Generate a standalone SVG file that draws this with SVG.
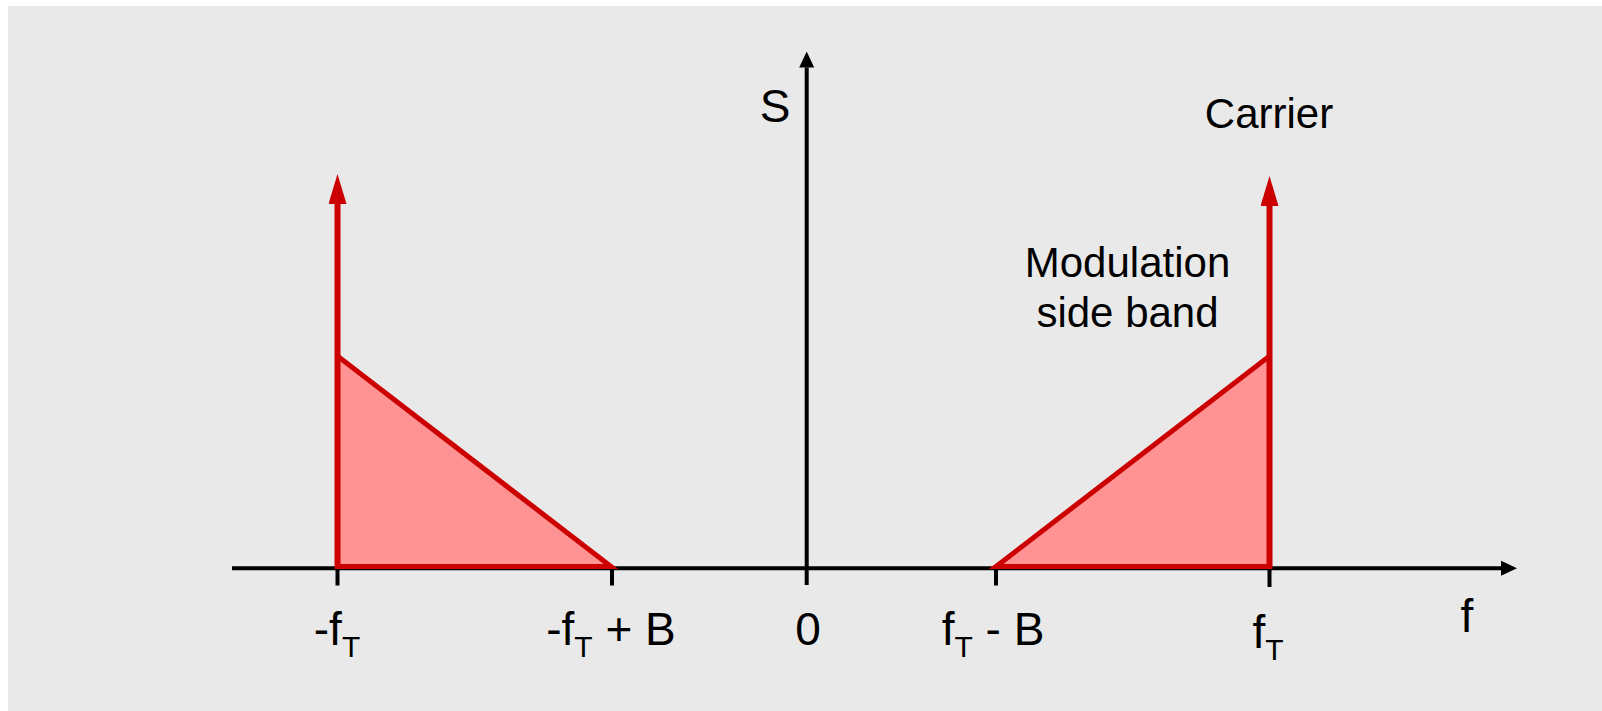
<svg xmlns="http://www.w3.org/2000/svg" width="1602" height="711" viewBox="0 0 1602 711">
  <style>
    .lbl { font-family: "Liberation Sans", Arial, sans-serif; fill: #000; }
    .ax { font-size: 46px; }
    .ann { font-size: 42px; }
    .sub { font-size: 30px; }
    .axis { stroke: #000; stroke-width: 4; fill: none; }
    .tick { stroke: #000; stroke-width: 4; }
    .band { fill: #FF9292; stroke: #CC0000; stroke-width: 5; stroke-linejoin: miter; }
    .carrier { stroke: #CC0000; stroke-width: 6; }
  </style>
  <defs>
    <marker id="blackHead" markerUnits="userSpaceOnUse" viewBox="0 0 16 16" markerWidth="16" markerHeight="16" refX="0" refY="8" orient="auto">
      <path d="M0,0.5 L16,8 L0,15.5 Z" fill="#000"/>
    </marker>
    <marker id="redHead" markerUnits="userSpaceOnUse" viewBox="0 0 30 18" markerWidth="30" markerHeight="18" refX="0" refY="9" orient="auto">
      <path d="M0,0 L30,9 L0,18 Z" fill="#CC0000"/>
    </marker>
  </defs>

  <rect x="8" y="6" width="1594" height="705" fill="#E9E9E9"/>

  <g id="connectors">
    <line id="f-axis" class="axis" x1="232" y1="568.3" x2="1501" y2="568.3" marker-end="url(#blackHead)"/>
    <line id="s-axis" class="axis" x1="806.7" y1="585" x2="806.7" y2="67.5" marker-end="url(#blackHead)"/>
    <line class="tick" x1="337.5" y1="566" x2="337.5" y2="585.5"/>
    <line class="tick" x1="612" y1="566" x2="612" y2="585.5"/>
    <line class="tick" x1="996" y1="566" x2="996" y2="585.5"/>
    <line class="tick" x1="1269.5" y1="566" x2="1269.5" y2="587"/>
  </g>

  <g id="sideband-left">
    <polygon class="band" points="337.5,566.5 337.5,356 611,566.5"/>
  </g>
  <g id="sideband-right">
    <polygon class="band" points="996,566.5 1269.5,356 1269.5,566.5"/>
  </g>

  <g id="carrier-left">
    <line class="carrier" x1="337.5" y1="569" x2="337.5" y2="204" marker-end="url(#redHead)"/>
  </g>
  <g id="carrier-right">
    <line class="carrier" x1="1269.5" y1="569" x2="1269.5" y2="206" marker-end="url(#redHead)"/>
  </g>

  <g id="labels">
    <text class="lbl ax" x="775" y="122" text-anchor="middle">S</text>
    <text class="lbl ann" x="1269" y="128" text-anchor="middle">Carrier</text>
    <text class="lbl ann" x="1127.5" y="277" text-anchor="middle">Modulation</text>
    <text class="lbl ann" x="1127.5" y="327" text-anchor="middle">side band</text>
    <text class="lbl ax" x="337" y="645" text-anchor="middle">-f<tspan class="sub" dy="12">T</tspan></text>
    <text class="lbl ax" x="611" y="645" text-anchor="middle">-f<tspan class="sub" dy="12">T</tspan><tspan dy="-12"> + B</tspan></text>
    <text class="lbl ax" x="808" y="645" text-anchor="middle">0</text>
    <text class="lbl ax" x="993" y="645" text-anchor="middle">f<tspan class="sub" dy="12">T</tspan><tspan dy="-12"> - B</tspan></text>
    <text class="lbl ax" x="1268" y="648" text-anchor="middle">f<tspan class="sub" dy="12">T</tspan></text>
    <text class="lbl ax" x="1467" y="632" text-anchor="middle">f</text>
  </g>
</svg>
